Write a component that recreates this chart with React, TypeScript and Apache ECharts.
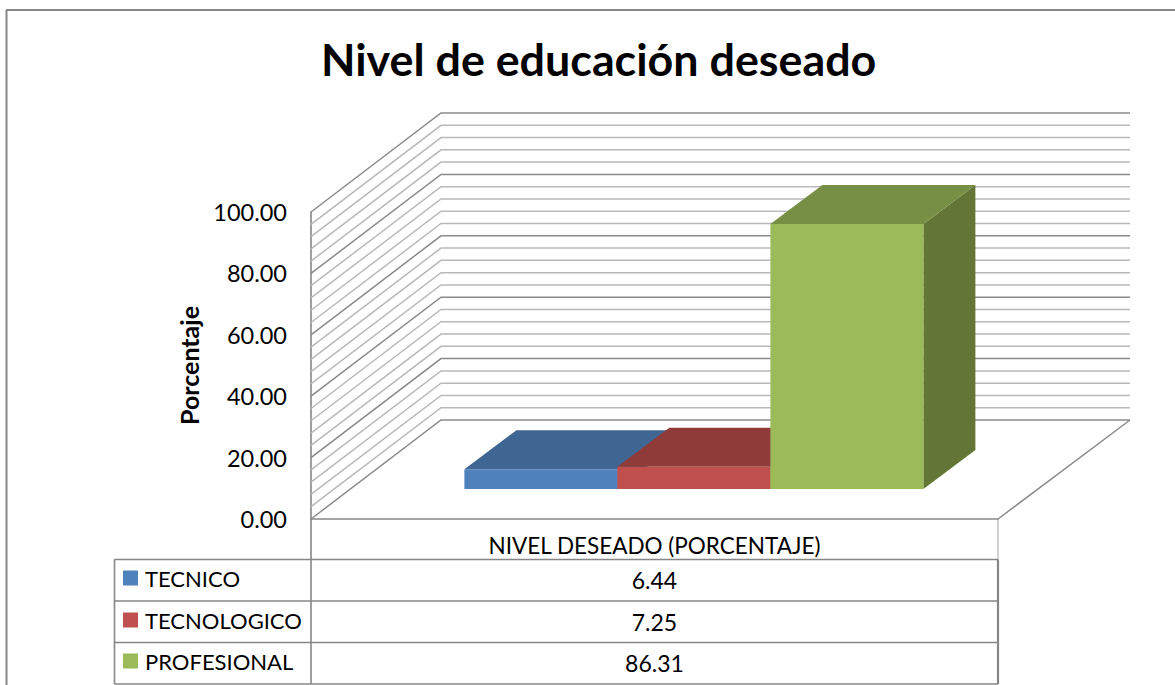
import React, { useEffect, useRef } from "react";
import * as echarts from "echarts";

const chartTitle = "Nivel de educación deseado";
const categories = ["NIVEL DESEADO (PORCENTAJE)"];
const seriesNames = ["TECNICO", "TECNOLOGICO", "PROFESIONAL"];
const seriesValues = [6.44, 7.25, 86.31];
const seriesLabels = ["6.44", "7.25", "86.31"];
const frontColors = ["#4f81bd", "#c0504d", "#9bbb59"];
const topColors = ["#3f6593", "#8f3b39", "#778f44"];
const sideColors = ["#365579", "#7a3230", "#647636"];
const gridValues = [0, 4, 8, 12, 16, 20, 24, 28, 32, 36, 40, 44, 48, 52, 56, 60, 64, 68, 72, 76, 80, 84, 88, 92, 96, 100];
const FONT = "Lato";

const GRID = { left: 311, top: 212, width: 687, height: 307 };
const DEPTH_X = 130;
const DEPTH_Y = 99;
const BACK_EXTRA = 2;
const BAR_W = 153;
const BAR_LIFT = 30;
const BAR_DX = 52;
const BAR_DY = 39;
const ROWS = [559.5, 601, 642.5, 684];
const LEGEND_TOPS = [567, 609, 650];
const TABLE_LEFT = 114.5;
const BORDER = "#868686";

function wallSeries() {
  return {
    type: "custom",
    silent: true,
    z: 1,
    coordinateSystem: "cartesian2d",
    encode: { y: 1 },
    data: gridValues.map((v) => [0, v]),
    renderItem: (_p: any, api: any) => {
      const v = api.value(1);
      const [, y] = api.coord([0, v]);
      const major = v % 20 === 0;
      const left = GRID.left;
      const right = GRID.left + GRID.width;
      const children: any[] = [
        {
          type: "polyline",
          shape: {
            points: [
              [left, y],
              [left + DEPTH_X, y - DEPTH_Y],
              [right + DEPTH_X + BACK_EXTRA, y - DEPTH_Y],
            ],
          },
          style: { fill: "none", stroke: major ? "#8a8a8a" : "#b9b9b9", lineWidth: 1.5 },
        },
      ];
      if (v === 0) {
        children.push({
          type: "polyline",
          shape: {
            points: [
              [right + DEPTH_X + BACK_EXTRA, y - DEPTH_Y],
              [right, y],
            ],
          },
          style: { fill: "none", stroke: "#8a8a8a", lineWidth: 1.5 },
        });
      }
      return { type: "group", children };
    },
  };
}

function barSeries(i: number) {
  return {
    type: "custom",
    name: seriesNames[i],
    z: 3 + i,
    coordinateSystem: "cartesian2d",
    itemStyle: { color: frontColors[i] },
    encode: { x: 0, y: 1 },
    data: [[0, seriesValues[i]]],
    renderItem: (_p: any, api: any) => {
      const [cx, y0] = api.coord([api.value(0), 0]);
      const [, yv] = api.coord([api.value(0), api.value(1)]);
      const shiftX = (BAR_LIFT * DEPTH_X) / DEPTH_Y;
      const x0 = cx + shiftX - (BAR_W * seriesNames.length) / 2 + BAR_W * i;
      const x1 = x0 + BAR_W;
      const b = y0 - BAR_LIFT;
      const t = yv - BAR_LIFT;
      return {
        type: "group",
        children: [
          {
            type: "polygon",
            shape: { points: [[x1, b], [x1 + BAR_DX, b - BAR_DY], [x1 + BAR_DX, t - BAR_DY], [x1, t]] },
            style: { fill: sideColors[i] },
          },
          {
            type: "polygon",
            shape: { points: [[x0, t], [x0 + BAR_DX, t - BAR_DY], [x1 + BAR_DX, t - BAR_DY], [x1, t]] },
            style: { fill: topColors[i] },
          },
          { type: "rect", shape: { x: x0, y: t, width: BAR_W, height: b - t }, style: { fill: frontColors[i] } },
        ],
      };
    },
  };
}

function tableGraphics() {
  const right = GRID.left + GRID.width;
  const line = (x1: number, y1: number, x2: number, y2: number, w = 1.6, c = BORDER) => ({
    type: "line",
    silent: true,
    shape: { x1, y1, x2, y2 },
    style: { stroke: c, lineWidth: w },
  });
  const els: any[] = [
    line(6, 10, 1175, 10, 2),
    line(6.5, 10, 6.5, 685, 2),
    line(GRID.left, GRID.top + GRID.height, GRID.left, ROWS[3]),
    line(right, GRID.top + GRID.height, right, ROWS[0], 1, "#a6a6a6"),
    line(right, ROWS[0], right, ROWS[3], 2.2),
    line(TABLE_LEFT, ROWS[0], TABLE_LEFT, ROWS[3]),
  ];
  ROWS.forEach((y) => els.push(line(TABLE_LEFT, y, right, y)));
  seriesLabels.forEach((label, i) => {
    els.push({
      type: "text",
      silent: true,
      style: {
        text: label,
        x: GRID.left + GRID.width / 2,
        y: (ROWS[i] + ROWS[i + 1]) / 2,
        align: "center",
        verticalAlign: "middle",
        font: `23px ${FONT}`,
        fill: "#000",
      },
    });
  });
  return els;
}

export default function App() {
  const ref = useRef<HTMLDivElement>(null);
  useEffect(() => {
    const chart = echarts.init(ref.current!, undefined, { renderer: "svg" });
    chart.setOption({
      animation: false,
      backgroundColor: "#fff",
      title: {
        text: chartTitle,
        left: 321,
        top: 36,
        padding: 0,
        textStyle: { fontFamily: FONT, fontWeight: "bold", fontSize: 44.8, color: "#000" },
      },
      legend: seriesNames.map((name, i) => ({
        data: [name],
        orient: "vertical",
        left: 123,
        top: LEGEND_TOPS[i],
        padding: 0,
        itemWidth: 15,
        itemHeight: 15,
        icon: "rect",
        selectedMode: false,
        textStyle: { fontFamily: FONT, fontSize: 22, color: "#000", padding: [0, 0, 0, 2] },
      })),
      grid: { ...GRID, containLabel: false },
      xAxis: {
        type: "category",
        data: categories,
        axisLine: { show: true, lineStyle: { color: BORDER, width: 1.6 } },
        axisTick: { show: false },
        axisLabel: { margin: 15, fontFamily: FONT, fontSize: 22.5, color: "#000" },
      },
      yAxis: {
        type: "value",
        min: 0,
        max: 100,
        interval: 20,
        name: "Porcentaje",
        nameLocation: "middle",
        nameGap: 110,
        nameRotate: 90,
        nameTextStyle: { fontFamily: FONT, fontWeight: "bold", fontSize: 25, color: "#000" },
        axisLine: { show: true, lineStyle: { color: BORDER, width: 1.6 } },
        axisTick: { show: false },
        splitLine: { show: false },
        axisLabel: {
          margin: 24,
          fontFamily: FONT,
          fontSize: 23.5,
          color: "#000",
          formatter: (v: number) => v.toFixed(2),
        },
      },
      graphic: tableGraphics(),
      series: [wallSeries(), ...seriesNames.map((_, i) => barSeries(i))],
    });
    return () => chart.dispose();
  }, []);
  return <div ref={ref} style={{ position: "fixed", left: 0, top: 0, width: 1175, height: 685 }} />;
}
